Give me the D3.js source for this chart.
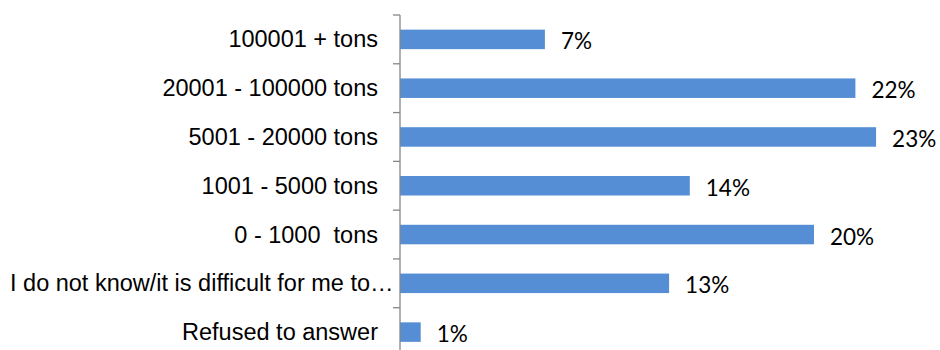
<!DOCTYPE html>
<html>
<head>
<meta charset="utf-8">
<script src="https://cdn.jsdelivr.net/npm/d3@7/dist/d3.min.js"></script>
<style>
  html, body { margin: 0; padding: 0; background: #fff; }
  svg { display: block; }
  text { white-space: pre; }
</style>
</head>
<body>
<svg id="chart" width="940" height="350"></svg>
<script>
// Shipment volume categories, top to bottom
const categories = [
  "100001 + tons",
  "20001 - 100000 tons",
  "5001 - 20000 tons",
  "1001 - 5000 tons",
  "0 - 1000  tons",
  "I do not know/it is difficult for me to…",
  "Refused to answer"
];
// Share of respondents, percent
const values = [7, 22, 23, 14, 20, 13, 1];
const valueLabels = ["7%", "22%", "23%", "14%", "20%", "13%", "1%"];

const svg = d3.select("#chart");
const axisX = 400;

const y = d3.scaleBand()
  .domain(categories)
  .range([15, 356.5])
  .paddingInner(0.6)
  .paddingOuter(0.3);

const x = d3.scaleLinear()
  .domain([0, 25])
  .range([axisX, axisX + 25 * 20.7]);

// Bars
svg.append("g")
  .selectAll("rect")
  .data(categories)
  .join("rect")
  .attr("x", x(0))
  .attr("y", d => y(d))
  .attr("width", (d, i) => x(values[i]) - x(0))
  .attr("height", y.bandwidth())
  .attr("fill", "#558ed5");

// Value labels
svg.append("g")
  .selectAll("text")
  .data(categories)
  .join("text")
  .attr("x", (d, i) => x(values[i]) + 16)
  .attr("y", d => y(d) + y.bandwidth() / 2 + 1.5)
  .attr("dominant-baseline", "central")
  .attr("font-family", "Lato, 'Open Sans', sans-serif")
  .attr("font-size", 22.5)
  .attr("fill", "#000")
  .text((d, i) => valueLabels[i]);

// Category axis: line with ticks between categories
const step = y.step();
const axisTop = y(categories[0]) - step * 0.3;
const axis = svg.append("g");
axis.append("line")
  .attr("x1", axisX).attr("x2", axisX)
  .attr("y1", axisTop).attr("y2", axisTop + step * categories.length)
  .attr("stroke", "#868686").attr("stroke-width", 1.3);
axis.selectAll("line.tick")
  .data(d3.range(categories.length + 1))
  .join("line")
  .attr("class", "tick")
  .attr("x1", axisX - 7).attr("x2", axisX)
  .attr("y1", i => axisTop + i * step).attr("y2", i => axisTop + i * step)
  .attr("stroke", "#868686").attr("stroke-width", 1.3);

// Category labels
axis.selectAll("text")
  .data(categories)
  .join("text")
  .attr("x", (d, i) => i === 5 ? 10 : 378)
  .attr("text-anchor", (d, i) => i === 5 ? "start" : "end")
  .attr("y", d => y(d) + y.bandwidth() / 2)
  .attr("dominant-baseline", "central")
  .attr("font-family", "'Liberation Sans', Arial, sans-serif")
  .attr("font-size", 23.5)
  .attr("fill", "#000")
  .text(d => d);
</script>
</body>
</html>
